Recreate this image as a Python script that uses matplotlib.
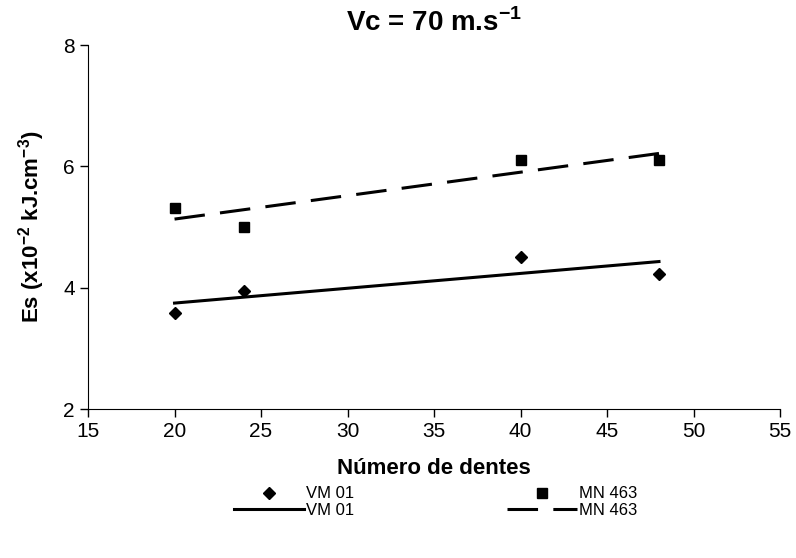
import numpy as np
import matplotlib.pyplot as plt

plt.rcParams['font.family'] = ['Liberation Sans', 'DejaVu Sans']
plt.rcParams['mathtext.fontset'] = 'custom'
plt.rcParams['mathtext.rm'] = 'Liberation Sans'
plt.rcParams['mathtext.bf'] = 'Liberation Sans:bold'

# Energia específica de corte em função do número de dentes
dentes = np.array([20, 24, 40, 48])
es_vm01 = np.array([3.59, 3.94, 4.50, 4.23])
es_mn463 = np.array([5.32, 5.00, 6.11, 6.11])

fig = plt.figure(figsize=(7.96, 5.58), dpi=100)
ax = fig.add_axes([0.1106, 0.267, 0.8694, 0.652])

# pontos medidos
p1, = ax.plot(dentes, es_vm01, 'D', color='black', markersize=6, label='VM 01')
p2, = ax.plot(dentes, es_mn463, 's', color='black', markersize=6.5, label='MN 463')

# retas de tendência (ajuste linear)
xx = np.array([dentes.min(), dentes.max()])
a1, b1 = np.polyfit(dentes, es_vm01, 1)
a2, b2 = np.polyfit(dentes, es_mn463, 1)
l1, = ax.plot(xx, a1 * xx + b1, '-', color='black', lw=2.2, label='VM 01')
l2, = ax.plot(xx, a2 * xx + b2, '--', color='black', lw=2.2, dashes=(10, 5), label='MN 463')

ax.set_xlim(15, 55)
ax.set_ylim(2, 8)
ax.set_xticks(np.arange(15, 56, 5))
ax.set_yticks([2, 4, 6, 8])
ax.tick_params(labelsize=15, length=6, width=1, direction='out')
ax.spines['top'].set_visible(False)
ax.spines['right'].set_visible(False)

ax.set_title(r'Vc = 70 m.s$^{\mathbf{-1}}$', fontsize=20, fontweight='bold', pad=10)
ax.set_xlabel('Número de dentes', fontsize=16, fontweight='bold', labelpad=12)
ax.set_ylabel(r'Es (x10$^{\mathbf{-2}}$ kJ.cm$^{\mathbf{-3}}$)', fontsize=16, fontweight='bold', labelpad=12)

fig.legend(handles=[p1, l1, p2, l2], ncol=2, loc='center', bbox_to_anchor=(0.547, 0.1),
           frameon=False, fontsize=12, handlelength=4.2, columnspacing=9.2,
           labelspacing=0.1, handletextpad=0.1)

fig.savefig('out.png', dpi=100)
